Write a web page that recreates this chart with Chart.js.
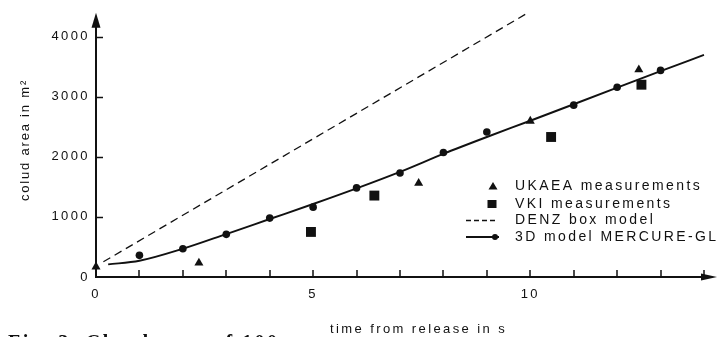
<!DOCTYPE html>
<html>
<head>
<meta charset="utf-8">
<script src="https://cdn.jsdelivr.net/npm/chart.js@4.4.1/dist/chart.umd.min.js"></script>
<style>
  html, body { margin: 0; padding: 0; background: #fff; }
  #wrap { position: relative; width: 727px; height: 337px; }
</style>
</head>
<body>
<div id="wrap"><canvas id="c" width="727" height="337"></canvas></div>
<script>
// ---- data ----
const seriesNames = ['UKAEA measurements', 'VKI measurements', 'DENZ box model', '3D model MERCURE-GL'];

const ukaeaT = [0, 2.37, 7.43, 10.0, 12.5];
const ukaeaA = [170, 235, 1560, 2595, 3450];

const vkiT = [4.95, 6.41, 10.48, 12.56];
const vkiA = [750, 1355, 2330, 3200];

const denzT = [0.17, 9.92];
const denzA = [253, 4385];

const mercureLineT = [0.28, 1, 2, 3, 4, 5, 6, 7, 8, 9, 10, 11, 12, 13, 14];
const mercureLineA = [210, 270, 470, 715, 965, 1215, 1475, 1750, 2050, 2330, 2600, 2875, 3150, 3425, 3697];

const mercureDotT = [1, 2, 3, 4, 5, 6, 7, 8, 9, 11, 12, 13];
const mercureDotA = [360, 470, 710, 980, 1162, 1483, 1730, 2071, 2413, 2860, 3157, 3438];

const xTickMarks = [0, 1, 2, 3, 4, 5, 6, 7, 8, 9, 10, 11, 12, 13, 14];
const xLabels = [0, 5, 10];
const yTicks = [0, 1000, 2000, 3000, 4000];
const xTitle = 'time from release in s';
const yTitle = 'colud area in m²';
const caption = 'Fig. 3. Cloud area of 100';

function pts(t, a) { return t.map((v, i) => ({ x: v, y: a[i] })); }

const INK = '#111';
const SPACING = '2.4px';

Chart.defaults.font.family = "'Liberation Sans', Arial, sans-serif";
Chart.defaults.font.size = 13;
Chart.defaults.color = INK;

const spacingPlugin = {
  id: 'spacing',
  beforeUpdate(chart) { chart.ctx.letterSpacing = SPACING; },
  beforeLayout(chart) { chart.ctx.letterSpacing = SPACING; },
  beforeDraw(chart) { chart.ctx.letterSpacing = SPACING; }
};

const axesPlugin = {
  id: 'axesArrows',
  afterDatasetsDraw(chart) {
    const ctx = chart.ctx, xs = chart.scales.x, ys = chart.scales.y;
    const x0 = xs.getPixelForValue(0), y0 = ys.getPixelForValue(0);
    const top = chart.chartArea.top, right = chart.chartArea.right;
    ctx.save();
    ctx.strokeStyle = INK; ctx.fillStyle = INK;
    ctx.lineWidth = 2;
    ctx.beginPath();
    ctx.moveTo(x0, y0); ctx.lineTo(x0, top + 6);
    ctx.moveTo(x0 - 1, y0); ctx.lineTo(right - 6, y0);
    ctx.stroke();
    // arrows
    ctx.beginPath();
    ctx.moveTo(x0, top - 1); ctx.lineTo(x0 - 4.5, top + 14); ctx.lineTo(x0 + 4.5, top + 14); ctx.closePath();
    ctx.fill();
    ctx.beginPath();
    ctx.moveTo(right, y0); ctx.lineTo(right - 16, y0 - 3.5); ctx.lineTo(right - 16, y0 + 3.5); ctx.closePath();
    ctx.fill();
    // tick marks
    ctx.lineWidth = 1.5;
    ctx.beginPath();
    for (let i = 0; i < xTickMarks.length; i++) {
      const v = xTickMarks[i];
      if (v <= 0) continue;
      const px = Math.round(xs.getPixelForValue(v));
      ctx.moveTo(px, y0 + 1); ctx.lineTo(px, y0 - 7);
    }
    for (let i = 0; i < yTicks.length; i++) {
      const v = yTicks[i];
      if (v <= 0) continue;
      const py = Math.round(ys.getPixelForValue(v)) + 0.5;
      ctx.moveTo(x0, py); ctx.lineTo(x0 + 7, py);
    }
    ctx.stroke();
    ctx.restore();
  },
  afterDraw(chart) {
    const ctx = chart.ctx;
    ctx.save();
    ctx.letterSpacing = SPACING;
    ctx.fillStyle = INK;
    ctx.font = "13px 'Liberation Sans', Arial, sans-serif";
    // x title
    ctx.textAlign = 'left'; ctx.textBaseline = 'middle';
    ctx.fillText(xTitle, 330, 329);
    // y title
    ctx.save();
    ctx.letterSpacing = '1.8px';
    ctx.translate(25, 140);
    ctx.rotate(-Math.PI / 2);
    ctx.textAlign = 'center';
    ctx.fillText(yTitle, 0, 0);
    ctx.restore();
    // caption (cut off at bottom)
    ctx.letterSpacing = '2.5px';
    ctx.font = "bold 20px 'Liberation Serif', 'Times New Roman', serif";
    ctx.textAlign = 'left'; ctx.textBaseline = 'alphabetic';
    ctx.fillText(caption, 8, 349);
    ctx.restore();

    // legend
    ctx.save();
    ctx.letterSpacing = '2.4px';
    ctx.font = "14px 'Liberation Sans', Arial, sans-serif";
    ctx.textAlign = 'left'; ctx.textBaseline = 'middle';
    ctx.fillStyle = INK; ctx.strokeStyle = INK;
    const tx = 515, rows = [186.5, 204, 220.5, 237];
    seriesNames.forEach((n, i) => ctx.fillText(n, tx, rows[i]));
    // triangle
    ctx.beginPath();
    ctx.moveTo(493, rows[0] - 4.5); ctx.lineTo(488.5, rows[0] + 3); ctx.lineTo(497.5, rows[0] + 3); ctx.closePath(); ctx.fill();
    // square
    ctx.fillRect(487.5, rows[1] - 4, 9, 8);
    // dashed
    ctx.lineWidth = 1.3;
    ctx.setLineDash([5, 3]);
    ctx.beginPath(); ctx.moveTo(466, rows[2]); ctx.lineTo(498, rows[2]); ctx.stroke();
    ctx.setLineDash([]);
    ctx.lineWidth = 1.8;
    ctx.beginPath(); ctx.moveTo(466, rows[3]); ctx.lineTo(499, rows[3]); ctx.stroke();
    ctx.beginPath(); ctx.arc(495, rows[3], 3, 0, Math.PI * 2); ctx.fill();
    ctx.restore();
  }
};

new Chart(document.getElementById('c'), {
  type: 'scatter',
  data: {
    datasets: [
      { label: seriesNames[0], data: pts(ukaeaT, ukaeaA), pointStyle: 'triangle', pointRadius: 5.2,
        backgroundColor: INK, borderColor: INK, borderWidth: 0, clip: false, order: 1 },
      { label: seriesNames[1], data: pts(vkiT, vkiA), pointStyle: 'rect', pointRadius: 7,
        backgroundColor: INK, borderColor: INK, borderWidth: 0, clip: false, order: 1 },
      { label: seriesNames[2], data: pts(denzT, denzA), showLine: true, pointRadius: 0,
        borderColor: INK, borderWidth: 1.3, borderDash: [8, 5], clip: false, order: 3 },
      { label: seriesNames[3], data: pts(mercureLineT, mercureLineA), showLine: true, pointRadius: 0,
        borderColor: INK, borderWidth: 1.9, cubicInterpolationMode: 'monotone', clip: false, order: 3 },
      { label: seriesNames[3] + ' (points)', data: pts(mercureDotT, mercureDotA), pointStyle: 'circle', pointRadius: 3.8,
        backgroundColor: INK, borderColor: INK, borderWidth: 0, clip: false, order: 2 }
    ]
  },
  options: {
    responsive: false,
    animation: false,
    events: [],
    layout: { padding: { top: 12, right: 10, left: 0, bottom: 0 } },
    plugins: { legend: { display: false }, tooltip: { enabled: false } },
    scales: {
      x: {
        type: 'linear', min: 0, max: 14.3,
        border: { display: false },
        grid: { display: false, drawTicks: false },
        ticks: {
          autoSkip: false, maxTicksLimit: 100, maxRotation: 0, padding: 10,
          callback: v => (xLabels.includes(v) ? String(v) : '')
        },
        afterBuildTicks: s => { s.ticks = xTickMarks.map(v => ({ value: v })); },
        afterFit: s => { s.height = 60; }
      },
      y: {
        type: 'linear', min: 0, max: 4380,
        border: { display: false },
        grid: { display: false, drawTicks: false },
        ticks: {
          autoSkip: false, maxTicksLimit: 100, padding: 6,
          callback: v => String(v)
        },
        afterBuildTicks: s => { s.ticks = yTicks.map(v => ({ value: v })); },
        afterFit: s => { s.width = 96; }
      }
    }
  },
  plugins: [spacingPlugin, axesPlugin]
});
</script>
</body>
</html>
